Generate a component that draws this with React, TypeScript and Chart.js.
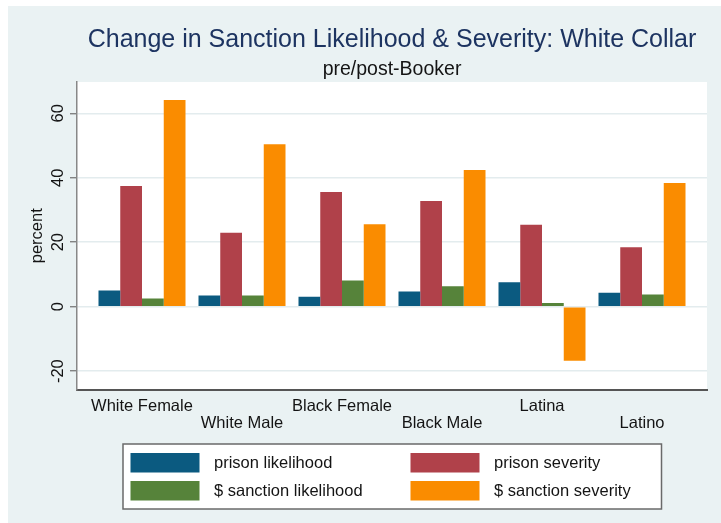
import { useEffect, useRef } from "react";
import { Chart, registerables } from "chart.js";

Chart.register(...registerables);

// Groups along the x axis
const groups = ["White Female", "White Male", "Black Female", "Black Male", "Latina", "Latino"];

// Percent change, pre/post-Booker
const prisonLikelihood = [5.0, 3.5, 3.1, 4.7, 7.6, 4.3];
const prisonSeverity = [37.4, 22.9, 35.6, 32.8, 25.4, 18.4];
const sanctionLikelihood = [2.5, 3.5, 8.1, 6.3, 1.1, 3.8];
const sanctionSeverity = [64.1, 50.4, 25.6, 42.4, -16.8, 38.4];

const yTicks = [-20, 0, 20, 40, 60];
const seriesNames = ["prison likelihood", "prison severity", "$ sanction likelihood", "$ sanction severity"];
const seriesColors = ["#0b5a80", "#b0414a", "#56833a", "#fa8c00"];

const titleText = "Change in Sanction Likelihood & Severity: White Collar";
const subtitleText = "pre/post-Booker";
const yTitle = "percent";

const FONT = "'Liberation Sans', Arial, Helvetica, sans-serif";
const BG = "#eaf2f3";
const INK = "#141414";

const decorations = {
  id: "decorations",
  beforeDraw(chart: any) {
    const { ctx, chartArea: a, width, height } = chart;
    ctx.save();
    ctx.fillStyle = "#ffffff";
    ctx.fillRect(0, 0, width, height);
    ctx.fillStyle = BG;
    ctx.fillRect(8, 6, width - 8, height - 6);
    ctx.fillStyle = "#ffffff";
    ctx.fillRect(a.left, a.top, a.right - a.left, a.bottom - a.top);
    ctx.restore();
  },
  afterDraw(chart: any) {
    const { ctx, chartArea: a } = chart;
    const xs = chart.scales.x;
    const ys = chart.scales.y;
    const cx = (a.left + a.right) / 2;
    ctx.save();

    // title and subtitle
    ctx.textAlign = "center";
    ctx.textBaseline = "alphabetic";
    ctx.fillStyle = "#1d3461";
    ctx.font = `25px ${FONT}`;
    ctx.fillText(titleText, cx, 46.5);
    ctx.fillStyle = INK;
    ctx.font = `19.5px ${FONT}`;
    ctx.fillText(subtitleText, cx, 75);

    // y tick labels, rotated
    ctx.font = `16.5px ${FONT}`;
    ctx.fillStyle = INK;
    yTicks.forEach((v) => {
      const py = ys.getPixelForValue(v);
      ctx.save();
      ctx.translate(a.left - 14.5, py);
      ctx.rotate(-Math.PI / 2);
      ctx.textAlign = "center";
      ctx.textBaseline = "alphabetic";
      ctx.fillText(String(v), 0, 0);
      ctx.restore();
    });

    // y axis title
    ctx.save();
    ctx.translate(a.left - 35, (a.top + a.bottom) / 2);
    ctx.rotate(-Math.PI / 2);
    ctx.textAlign = "center";
    ctx.textBaseline = "alphabetic";
    ctx.fillText(yTitle, 0, 0);
    ctx.restore();

    // staggered group labels
    ctx.textAlign = "center";
    ctx.textBaseline = "alphabetic";
    groups.forEach((g, i) => {
      const px = xs.getPixelForValue(i + 1);
      const py = a.bottom + (i % 2 === 0 ? 21 : 38.5);
      ctx.fillText(g, px, py);
    });

    // legend
    const lx = 123, ly = 444, lw = 538.5, lh = 65;
    ctx.fillStyle = "#ffffff";
    ctx.fillRect(lx, ly, lw, lh);
    ctx.strokeStyle = "#6a6a6a";
    ctx.lineWidth = 1.5;
    ctx.strokeRect(lx, ly, lw, lh);
    const colX = [130.5, 410.5];
    const rowY = [453, 481];
    ctx.textAlign = "left";
    ctx.textBaseline = "middle";
    seriesNames.forEach((name, i) => {
      const c = i % 2;
      const r = Math.floor(i / 2);
      ctx.fillStyle = seriesColors[i];
      ctx.fillRect(colX[c], rowY[r], 69, 19.5);
      ctx.fillStyle = INK;
      ctx.fillText(name, colX[c] + 83.5, rowY[r] + 10.5);
    });

    ctx.restore();
  },
};

export default function App() {
  const canvasRef = useRef<HTMLCanvasElement | null>(null);

  useEffect(() => {
    const canvas = canvasRef.current;
    if (!canvas) return;
    const series = [prisonLikelihood, prisonSeverity, sanctionLikelihood, sanctionSeverity];
    const chart = new Chart(canvas, {
      type: "bar",
      data: {
        datasets: series.map((vals, k) => ({
          label: seriesNames[k],
          data: vals.map((v, i) => ({ x: i + 1, y: v })),
          backgroundColor: seriesColors[k],
          borderWidth: 0,
          categoryPercentage: 0.87,
          barPercentage: 1,
        })),
      },
      options: {
        animation: false,
        responsive: false,
        devicePixelRatio: 1,
        layout: { padding: { top: 82, right: 14, left: 0, bottom: 0 } },
        plugins: {
          legend: { display: false },
          title: { display: false },
          tooltip: { enabled: false },
        },
        scales: {
          x: {
            type: "linear",
            offset: false,
            min: 0.35,
            max: 6.65,
            afterBuildTicks: (s: any) => {
              s.ticks = groups.map((_, i) => ({ value: i + 1 }));
            },
            afterFit: (s: any) => {
              s.height = 133.5;
            },
            ticks: { display: false },
            grid: { display: false, drawTicks: false, offset: false },
            border: { display: true, color: "#555555", width: 2 },
          },
          y: {
            type: "linear",
            min: -25.7,
            max: 69.7,
            afterBuildTicks: (s: any) => {
              s.ticks = yTicks.map((v) => ({ value: v }));
            },
            afterFit: (s: any) => {
              s.width = 77;
            },
            ticks: { display: false },
            grid: {
              color: "#e3ecee",
              lineWidth: 1.5,
              drawTicks: true,
              tickLength: 7,
              tickColor: "#707070",
              tickWidth: 1.2,
            },
            border: { display: true, color: "#888888", width: 1.5 },
          },
        },
      },
      plugins: [decorations],
    });
    return () => chart.destroy();
  }, []);

  return (
    <div style={{ position: "fixed", left: 0, top: 0, width: 721, height: 523 }}>
      <canvas ref={canvasRef} width={721} height={523} />
    </div>
  );
}
